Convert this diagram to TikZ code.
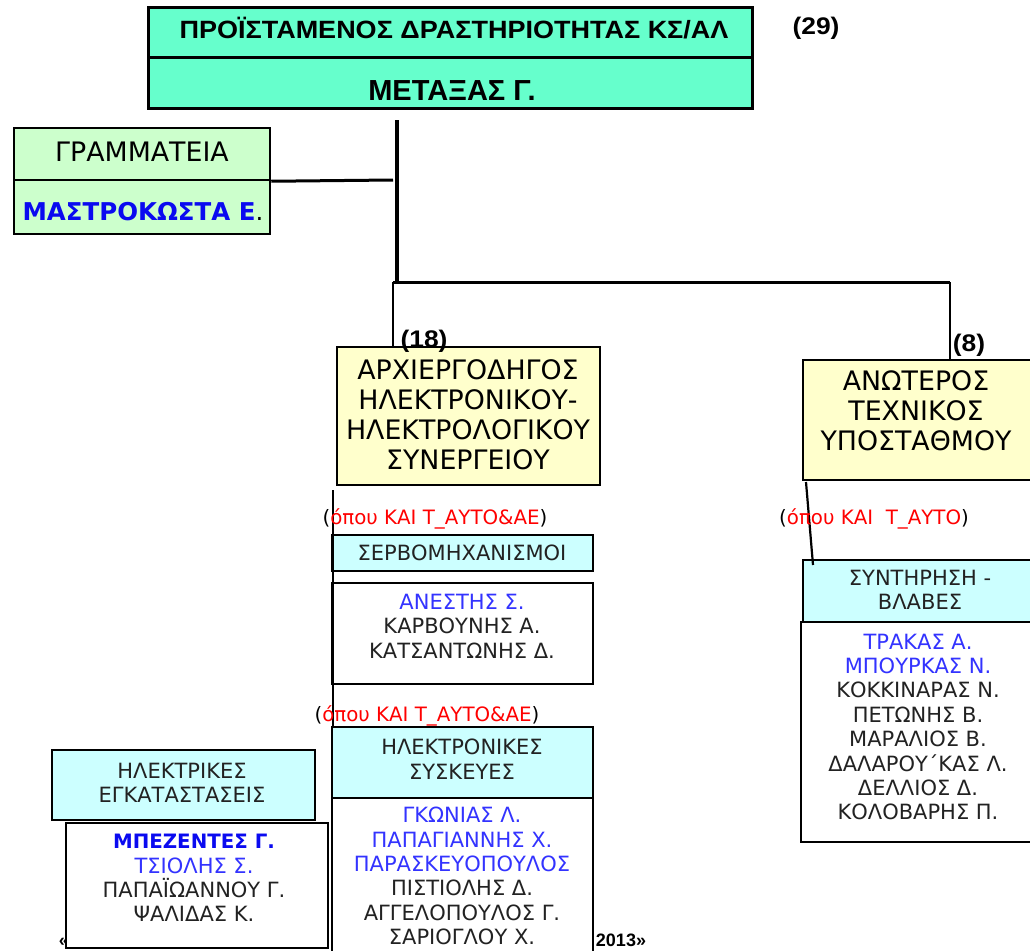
\documentclass[tikz,border=0pt]{standalone}
\usepackage{fontspec}
\setmainfont{DejaVu Sans}
\newfontfamily\arialfont{Liberation Sans}
\definecolor{aqua}{HTML}{66FFCC}
\definecolor{secgreen}{HTML}{CCFFCC}
\definecolor{paleyellow}{HTML}{FFFFCC}
\definecolor{palecyan}{HTML}{CCFFFF}
\definecolor{nameblue}{HTML}{3333FF}
\definecolor{boldblue}{HTML}{0A0AF0}
\definecolor{txtgray}{HTML}{222222}
\begin{document}
\begin{tikzpicture}[x=1pt,y=-1pt,
  box/.style={draw=black,line width=2.5pt,inner sep=0pt,anchor=center},
  conn/.style={draw=black,line width=3pt},
  thin conn/.style={draw=black,line width=2.2pt},
  big/.style={font=\fontsize{26.8}{30}\selectfont,align=center,inner sep=0pt},
  small/.style={font=\fontsize{21}{24.4}\selectfont,align=center,inner sep=0pt,text=txtgray},
  redtxt/.style={font=\fontsize{19.8}{24}\selectfont,inner sep=0pt},
  count/.style={font=\arialfont\bfseries\fontsize{24}{26}\selectfont,inner sep=0pt}]
\clip (0,0) rectangle (1030,950);
\fill[white] (0,0) rectangle (1030,950);

% partly hidden footer text
\node[font=\arialfont\bfseries\fontsize{18}{20}\selectfont,inner sep=0pt] (ftl) at (64,942) {«};
\node[font=\arialfont\bfseries\fontsize{18}{20}\selectfont,inner sep=0pt] (ftr) at (621,940) {2013»};

% connector points
\coordinate (vtop) at (397,120);
\coordinate (jn) at (397,283);
\coordinate (jl) at (393,282);
\coordinate (jr) at (950,282);
\coordinate (sj) at (393,180);
\coordinate (a1) at (333,490);
\coordinate (b1) at (806,482);
\coordinate (b2) at (813,565);

% boxes
\node[box,fill=aqua,minimum width=604pt,minimum height=50pt,line width=3pt] (top1) at (450,33) {};
\node[box,fill=aqua,minimum width=604pt,minimum height=50pt,line width=3pt] (top2) at (450,83) {};
\node[box,fill=secgreen,minimum width=256pt,minimum height=52pt] (sec1) at (142,154) {};
\node[box,fill=secgreen,minimum width=256pt,minimum height=54pt] (sec2) at (142,207) {};
\node[box,fill=paleyellow,minimum width=263pt,minimum height=138pt] (arch) at (468.5,416) {};
\node[box,fill=paleyellow,minimum width=242pt,minimum height=120pt] (anot) at (924,420) {};
\node[box,fill=palecyan,minimum width=261pt,minimum height=36pt] (servo) at (462.5,553) {};
\node[box,fill=white,minimum width=261pt,minimum height=101pt] (names1) at (462.5,633.5) {};
\node[box,fill=palecyan,minimum width=261pt,minimum height=71pt] (hs) at (462.5,762.5) {};
\node[box,fill=white,minimum width=261pt,minimum height=172pt] (names2) at (462.5,884) {};
\node[box,fill=palecyan,minimum width=263pt,minimum height=70pt] (ei) at (183.5,785) {};
\node[box,fill=white,minimum width=262pt,minimum height=125pt] (names3) at (197,885.5) {};
\node[box,fill=palecyan,minimum width=242pt,minimum height=62pt] (synt) at (924,591) {};
\node[box,fill=white,minimum width=244pt,minimum height=220pt] (names4) at (923,732) {};

% connectors
\draw[conn,line width=4pt] (vtop) -- (jn);
\draw[conn] (jl) -- (jr);
\draw[thin conn] (jl) -- (jl |- arch.north);
\draw[thin conn] (jr) -- (jr |- anot.north);
\draw[conn] (sec1.south east) -- (sj);
\draw[thin conn] (a1) -- (a1 |- hs.north);
\draw[thin conn] (b1) -- (b2);

% texts
\node[font=\arialfont\bfseries\fontsize{25}{28}\selectfont,inner sep=0pt] (t1) at (454,28) {\scalebox{1.08}[1]{ΠΡΟΪΣΤΑΜΕΝΟΣ ΔΡΑΣΤΗΡΙΟΤΗΤΑΣ ΚΣ/ΑΛ}};
\node[font=\arialfont\bfseries\fontsize{29}{30}\selectfont,inner sep=0pt] (t2) at (452,91) {ΜΕΤΑΞΑΣ Γ.};
\node[count] (c29) at (816,28) {\scalebox{1.1}[1]{(29)}};
\node[big] (s1) at (142,152) {ΓΡΑΜΜΑΤΕΙΑ};
\node[font=\fontsize{24.5}{28}\selectfont,inner sep=0pt] (s2) at (143,212) {\textcolor{boldblue}{\bfseries ΜΑΣΤΡΟΚΩΣΤΑ Ε}.};
\node[count] (c18) at (424,341) {\scalebox{1.1}[1]{(18)}};
\node[count] (c8) at (969,345) {\scalebox{1.1}[1]{(8)}};
\node[big] (at) at (468,415) {ΑΡΧΙΕΡΓΟΔΗΓΟΣ\\ΗΛΕΚΤΡΟΝΙΚΟΥ-\\ΗΛΕΚΤΡΟΛΟΓΙΚΟΥ\\ΣΥΝΕΡΓΕΙΟΥ};
\node[big] (nt) at (916,411) {ΑΝΩΤΕΡΟΣ\\ΤΕΧΝΙΚΟΣ\\ΥΠΟΣΤΑΘΜΟΥ};
\node[redtxt] (r1) at (435,519) {(\textcolor{red}{όπου ΚΑΙ Τ\_ΑΥΤΟ\&ΑΕ})};
\node[redtxt] (r2) at (427,716) {(\textcolor{red}{όπου ΚΑΙ Τ\_ΑΥΤΟ\&ΑΕ})};
\node[redtxt] (r3) at (874,519) {(\textcolor{red}{όπου ΚΑΙ \ Τ\_ΑΥΤΟ})};
\node[small] (st) at (462,553) {ΣΕΡΒΟΜΗΧΑΝΙΣΜΟΙ};
\node[small] (n1) at (462,626) {\textcolor{nameblue}{ΑΝΕΣΤΗΣ Σ.}\\ΚΑΡΒΟΥΝΗΣ Α.\\ΚΑΤΣΑΝΤΩΝΗΣ Δ.};
\node[small] (ht) at (462,759) {ΗΛΕΚΤΡΟΝΙΚΕΣ\\ΣΥΣΚΕΥΕΣ};
\node[small] (n2) at (462,876) {\textcolor{nameblue}{ΓΚΩΝΙΑΣ Λ.}\\\textcolor{nameblue}{ΠΑΠΑΓΙΑΝΝΗΣ Χ.}\\\textcolor{nameblue}{ΠΑΡΑΣΚΕΥΟΠΟΥΛΟΣ}\\ΠΙΣΤΙΟΛΗΣ Δ.\\ΑΓΓΕΛΟΠΟΥΛΟΣ Γ.\\ΣΑΡΙΟΓΛΟΥ Χ.};
\node[small] (et) at (182,783) {ΗΛΕΚΤΡΙΚΕΣ\\ΕΓΚΑΤΑΣΤΑΣΕΙΣ};
\node[small] (n3) at (194,878) {\textcolor{boldblue}{\bfseries\fontsize{19.8}{24.4}\selectfont ΜΠΕΖΕΝΤΕΣ Γ.}\\\textcolor{nameblue}{ΤΣΙΟΛΗΣ Σ.}\\ΠΑΠΑΪΩΑΝΝΟΥ Γ.\\ΨΑΛΙΔΑΣ Κ.};
\node[small] (yt) at (920,590) {ΣΥΝΤΗΡΗΣΗ -\\ΒΛΑΒΕΣ};
\node[small] (n4) at (918,727) {\textcolor{nameblue}{ΤΡΑΚΑΣ Α.}\\\textcolor{nameblue}{ΜΠΟΥΡΚΑΣ Ν.}\\ΚΟΚΚΙΝΑΡΑΣ Ν.\\ΠΕΤΩΝΗΣ Β.\\ΜΑΡΑΛΙΟΣ Β.\\ΔΑΛΑΡΟΥ΄ΚΑΣ Λ.\\ΔΕΛΛΙΟΣ Δ.\\ΚΟΛΟΒΑΡΗΣ Π.};
\end{tikzpicture}
\end{document}
